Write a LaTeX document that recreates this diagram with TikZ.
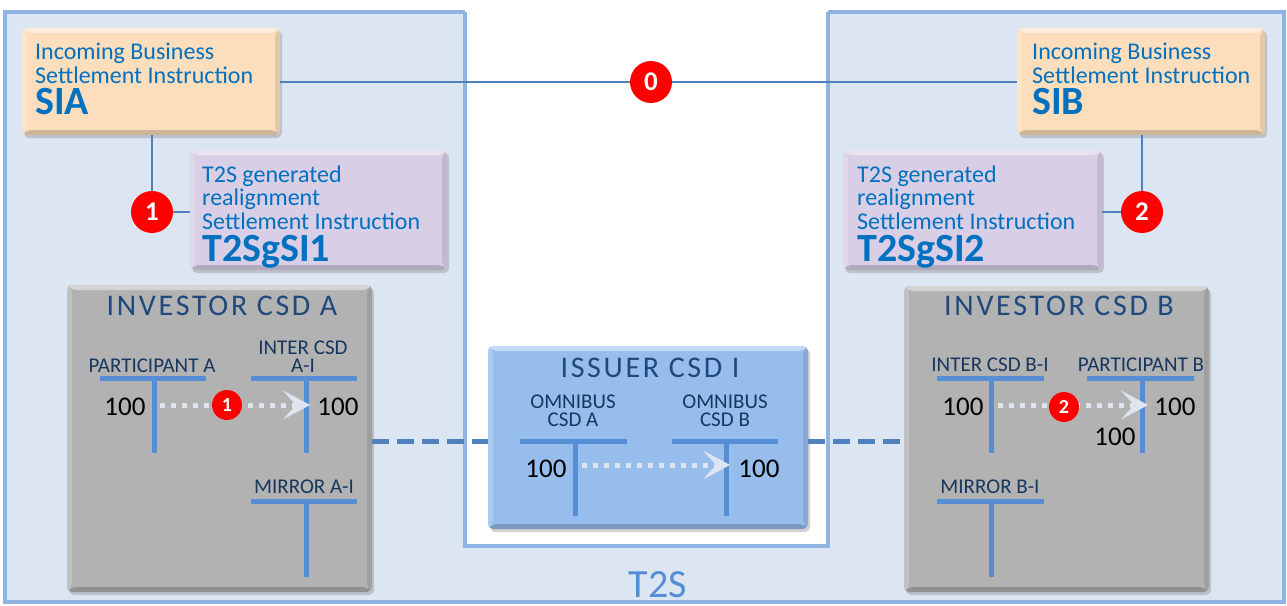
\documentclass[tikz,border=0pt]{standalone}
\usepackage{fontspec}
\setmainfont{Carlito}
\newfontfamily\titlefont[LetterSpace=9]{Carlito}
\usetikzlibrary{arrows.meta,shadows,calc}
\definecolor{panelline}{RGB}{142,180,227}
\definecolor{bgblue}{RGB}{220,230,242}
\definecolor{peach}{RGB}{252,222,188}
\definecolor{lav}{RGB}{216,207,231}
\definecolor{grayfill}{RGB}{178,178,178}
\definecolor{issfill}{RGB}{151,189,237}
\definecolor{txtblue}{RGB}{0,112,192}
\definecolor{navy}{RGB}{31,73,125}
\definecolor{navytwo}{RGB}{23,55,94}
\definecolor{acctblue}{RGB}{85,142,213}
\definecolor{linkblue}{RGB}{79,129,189}
\definecolor{dashblue}{RGB}{79,129,189}
\definecolor{dotcol}{RGB}{222,229,240}
\definecolor{t2scol}{RGB}{85,142,213}
\tikzset{
  bevel/.style={path picture={
    \fill[white,opacity=0.45] (path picture bounding box.north west) -- (path picture bounding box.north east) -- ([xshift=-5pt,yshift=-5pt]path picture bounding box.north east) -- ([xshift=5pt,yshift=-5pt]path picture bounding box.north west) -- cycle;
    \fill[black,opacity=0.18] (path picture bounding box.south west) -- (path picture bounding box.south east) -- ([xshift=-5pt,yshift=5pt]path picture bounding box.south east) -- ([xshift=5pt,yshift=5pt]path picture bounding box.south west) -- cycle;
    \fill[black,opacity=0.10] (path picture bounding box.north east) -- (path picture bounding box.south east) -- ([xshift=-5pt,yshift=5pt]path picture bounding box.south east) -- ([xshift=-5pt,yshift=-5pt]path picture bounding box.north east) -- cycle;
    \fill[white,opacity=0.20] (path picture bounding box.north west) -- (path picture bounding box.south west) -- ([xshift=5pt,yshift=5pt]path picture bounding box.south west) -- ([xshift=5pt,yshift=-5pt]path picture bounding box.north west) -- cycle;
  }},
  box/.style={rounded corners=5pt, bevel, drop shadow={shadow xshift=2pt,shadow yshift=-3pt,opacity=.35}, inner sep=0pt},
  peachbox/.style={box, fill=peach},
  lavbox/.style={box, fill=lav},
  graybox/.style={box, fill=grayfill},
  issbox/.style={box, fill=issfill},
  panel/.style={draw=panelline, line width=4pt},
  itxt/.style={font=\fontsize{24}{24}\selectfont, text=txtblue, inner sep=0pt, anchor=base west, text height=16pt, text depth=4pt},
  ibig/.style={font=\bfseries\fontsize{40}{40}\selectfont, text=txtblue, inner sep=0pt, anchor=base west, text height=26pt, text depth=6pt},
  ttl/.style={font=\titlefont\fontsize{30}{30}\selectfont, text=navy, inner sep=0pt, anchor=base, text height=20pt, text depth=0pt},
  albl/.style={font=\fontsize{21}{21}\selectfont, text=navytwo, inner sep=0pt, anchor=base, text height=14pt, text depth=0pt},
  albltwo/.style={font=\fontsize{21}{18}\selectfont, text=navytwo, inner sep=0pt, anchor=south, align=center},
  num/.style={font=\fontsize{27}{27}\selectfont, text=black, inner sep=0pt, anchor=base},
  bigc/.style={circle, fill=red, minimum size=42pt, inner sep=0pt, text=white, font=\bfseries\fontsize{27}{27}\selectfont},
  smallc/.style={circle, fill=red, minimum size=30pt, inner sep=0pt, text=white, font=\bfseries\fontsize{20}{20}\selectfont},
  acct/.style={draw=acctblue, line width=5pt},
  link/.style={draw=linkblue, line width=1.8pt},
  dashlink/.style={draw=dashblue, line width=5pt, dash pattern=on 17pt off 8pt},
  dotarrow/.style={draw=dotcol, line width=5pt, dash pattern=on 5pt off 6pt, -{Stealth[length=27pt,width=29pt,inset=13pt,line width=0.5pt,fill=dotcol]}},
  t2sl/.style={font=\fontsize{40}{40}\selectfont, text=t2scol, inner sep=0pt, anchor=base}
}
\begin{document}
\begin{tikzpicture}[x=1pt,y=-1pt]
\useasboundingbox (0,0) rectangle (1287,605);
\fill[white] (0,0) rectangle (1287,605);
% panels
\fill[bgblue] (5,12) rectangle (1284,602);
\draw[panel] (5,12) rectangle (1284,602);
\fill[white] (465,0) rectangle (828,546);
\draw[panel] (465,12) -- (465,546) -- (828,546) -- (828,12);
\node[t2sl] (t2s) at (658,597) {T2S};

% instruction boxes
\node[peachbox, minimum width=258pt, minimum height=107pt] (sia) at (151,81.5) {};
\node[peachbox, minimum width=248pt, minimum height=107pt] (sib) at (1141,81.5) {};
\node[lavbox, minimum width=257pt, minimum height=120pt] (gs1) at (318.5,210) {};
\node[lavbox, minimum width=259pt, minimum height=120pt] (gs2) at (972.5,210) {};

\node[itxt] (siat1) at (35,59) {Incoming Business};
\node[itxt] (siat2) at (35,83) {Settlement Instruction};
\node[ibig] (siat3) at (35,114) {SIA};
\node[itxt] (sibt1) at (1032,59) {Incoming Business};
\node[itxt] (sibt2) at (1032,83) {Settlement Instruction};
\node[ibig] (sibt3) at (1032,114) {SIB};

\node[itxt] (g1t1) at (202,182) {T2S generated};
\node[itxt] (g1t2) at (202,205) {realignment};
\node[itxt] (g1t3) at (202,229) {Settlement Instruction};
\node[ibig] (g1t4) at (202,261) {T2SgSI1};
\node[itxt] (g2t1) at (857,182) {T2S generated};
\node[itxt] (g2t2) at (857,205) {realignment};
\node[itxt] (g2t3) at (857,229) {Settlement Instruction};
\node[ibig] (g2t4) at (857,261) {T2SgSI2};

% step circles
\node[bigc] (c0) at (651,82) {0};
\node[bigc] (c1) at (152,212) {1};
\node[bigc] (c2) at (1142,212) {2};
\draw[link] (sia.east |- c0) -- (c0.west);
\draw[link] (c0.east) -- (sib.west |- c0);
\draw[link] (c1 |- sia.south) -- (c1.north);
\draw[link] (c1.east) -- (gs1.west |- c1);
\draw[link] (c2 |- sib.south) -- (c2.north);
\draw[link] (c2.west) -- (gs2.east |- c2);

% CSD boxes
\node[graybox, minimum width=305pt, minimum height=307pt] (inva) at (219.5,438.5) {};
\node[issbox, minimum width=320pt, minimum height=183pt] (iss) at (648,437.5) {};
\node[graybox, minimum width=305pt, minimum height=306pt] (invb) at (1056.5,439) {};
\coordinate (dy) at (0,441);
\draw[dashlink] (inva.east |- dy) -- (iss.west |- dy);
\draw[dashlink] (iss.east |- dy) -- (invb.west |- dy);

\node[ttl] (ta) at (222,315) {INVESTOR CSD A};
\node[ttl] (tb) at (1059,315) {INVESTOR CSD B};
\node[ttl] (ti) at (650,377) {ISSUER CSD I};

% investor CSD A accounts
\node[albl] (pa) at (152,372) {PARTICIPANT A};
\node[albltwo] (ica) at (303,373) {INTER CSD\\A-I};
\node[albl] (ma) at (304,493) {MIRROR A-I};
\draw[acct] (100,378) -- (206,378) (154,378) -- (154,453);
\draw[acct] (251,378) -- (357,378) (306,378) -- (306,453);
\draw[acct] (251,501) -- (357,501) (306,501) -- (306,577);
\node[num] (na1) at (125,415) {100};
\node[num] (na2) at (338,415) {100};
\coordinate (as) at (160,405);
\coordinate (ae) at (310,405);
\draw[dotarrow] (as) -- (ae);
\node[smallc] (s1) at (227,405) {1};

% issuer CSD accounts
\node[albltwo] (oa) at (573,427) {OMNIBUS\\CSD A};
\node[albltwo] (ob) at (725,427) {OMNIBUS\\CSD B};
\draw[acct] (520,441) -- (627,441) (575,441) -- (575,516);
\draw[acct] (672,441) -- (778,441) (726,441) -- (726,516);
\node[num] (ni1) at (546,477) {100};
\node[num] (ni2) at (759,477) {100};
\coordinate (is) at (582,465);
\coordinate (ie) at (730,465);
\draw[dotarrow] (is) -- (ie);

% investor CSD B accounts
\node[albl] (icb) at (990,371) {INTER CSD B-I};
\node[albl] (pb) at (1141,371) {PARTICIPANT B};
\node[albl] (mb) at (990,493) {MIRROR B-I};
\draw[acct] (937,378) -- (1044,378) (991,378) -- (991,453);
\draw[acct] (1087,378) -- (1194,378) (1142,378) -- (1142,453);
\draw[acct] (937,501) -- (1044,501) (991,501) -- (991,577);
\node[num] (nb1) at (963,415) {100};
\node[num] (nb2) at (1175,415) {100};
\node[num] (nb3) at (1115,445) {100};
\coordinate (bs) at (998,405);
\coordinate (be) at (1148,405);
\draw[dotarrow] (bs) -- (be);
\node[smallc] (s2) at (1064,407) {2};
\end{tikzpicture}
\end{document}
